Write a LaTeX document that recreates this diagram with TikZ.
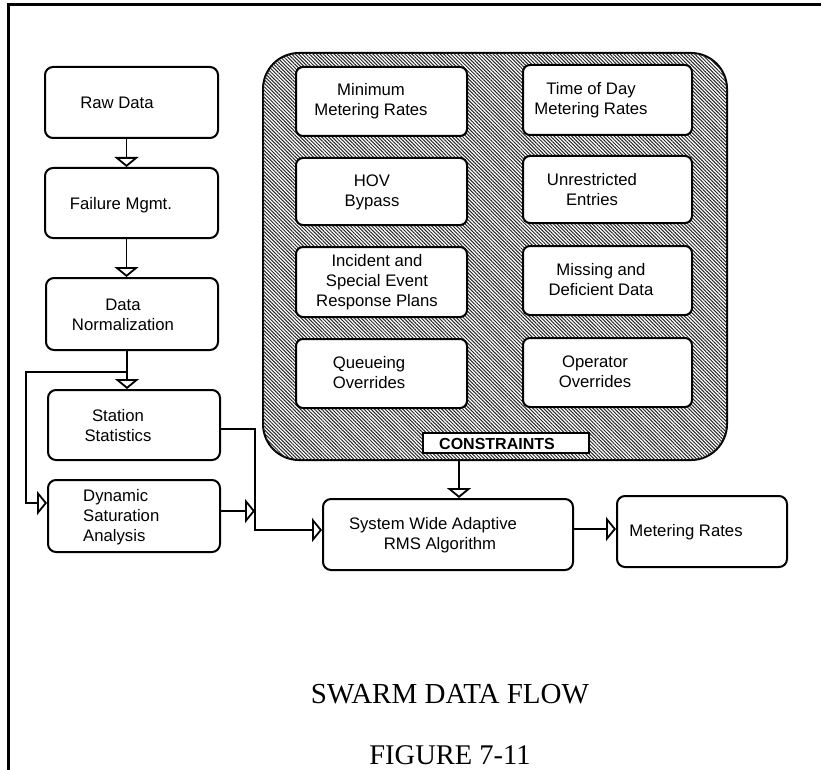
\documentclass[tikz,border=0pt]{standalone}
\usepackage{fontspec}
\newfontfamily\helv{Liberation Sans}
\newfontfamily\tms{Liberation Serif}
\usetikzlibrary{arrows.meta,patterns.meta}
\begin{document}
\begin{tikzpicture}[x=1pt,y=-1pt,
  box/.style={draw,line width=2pt,rounded corners=8pt,minimum width=#1,inner sep=0pt},
  cbox/.style={draw,line width=2pt,rounded corners=7pt,fill=white,inner sep=0pt},
  txt/.style={font=\helv\fontsize{16.7}{20}\selectfont,align=center,inner sep=0pt},
  arr/.style={line width=1.8pt,-{Triangle[open,width=24pt,length=10pt]}},
  ln/.style={line width=1.8pt}]
\useasboundingbox (0,0) rectangle (821,770);
% page frame
\draw[line width=3pt] (821,5) -- (8,5) -- (8,770);
% left column boxes
\node[box=173pt,minimum height=71pt] (raw)  at (131.5,102.5) {};
\node[box=173pt,minimum height=70pt] (fail) at (131.5,203) {};
\node[box=172pt,minimum height=72pt] (norm) at (132,314) {};
\node[box=172pt,minimum height=70pt] (stat) at (134,425) {};
\node[box=172pt,minimum height=72pt] (dyn)  at (134,516) {};
\node[box=250pt,minimum height=71pt] (sys)  at (448,534.5) {};
\node[box=170pt,minimum height=71pt] (met)  at (702,531.5) {};
\node[txt] (rawT)  at (117,103) {Raw Data};
\node[txt] (failT) at (121,205) {Failure Mgmt.};
\node[txt] (normT) at (123,315) {Data\\Normalization};
\node[txt] (statT) at (118,426) {Station\\Statistics};
\node[txt,align=left,anchor=west] (dynT) at (83,517) {Dynamic\\Saturation\\Analysis};
\node[txt] (sysT) at (433,535) {System Wide Adaptive\\\hspace*{14pt}RMS Algorithm};
\node[txt] (metT) at (686,532) {Metering Rates};
% constraints block
\node[draw,line width=2pt,rounded corners=36pt,minimum width=464pt,minimum height=407pt,inner sep=0pt,
  fill=white,postaction={pattern={Lines[angle=-45,distance=2.5pt,line width=1pt]},pattern color=black!85}] (cons) at (495,256.5) {};
\node[cbox,minimum width=171pt,minimum height=69pt] (c1) at (381.5,101.5) {};
\node[cbox,minimum width=169pt,minimum height=70pt] (c2) at (607.5,100) {};
\node[cbox,minimum width=171pt,minimum height=67pt] (c3) at (381.5,191.5) {};
\node[cbox,minimum width=169pt,minimum height=67pt] (c4) at (607.5,189.5) {};
\node[cbox,minimum width=171pt,minimum height=70pt] (c5) at (381.5,282) {};
\node[cbox,minimum width=169pt,minimum height=69pt] (c6) at (607.5,280.5) {};
\node[cbox,minimum width=171pt,minimum height=69pt] (c7) at (381.5,373.5) {};
\node[cbox,minimum width=169pt,minimum height=69pt] (c8) at (607.5,372.5) {};
\node[draw,line width=1.6pt,fill=white,minimum width=166pt,minimum height=20pt,inner sep=0pt] (lab) at (506,443) {};
\node[txt] (c1T) at (371,101) {Minimum\\Metering Rates};
\node[txt] (c2T) at (591,100) {Time of Day\\Metering Rates};
\node[txt] (c3T) at (372,192) {HOV\\Bypass};
\node[txt] (c4T) at (592,190) {Unrestricted\\Entries};
\node[txt] (c5T) at (377,282) {Incident and\\Special Event\\Response Plans};
\node[txt] (c6T) at (601,280) {Missing and\\Deficient Data};
\node[txt] (c7T) at (369,373) {Queueing\\Overrides};
\node[txt] (c8T) at (595,372) {Operator\\Overrides};
\node[txt,font=\helv\bfseries\fontsize{16}{18}\selectfont] (labT) at (497,443.5) {CONSTRAINTS};
% helper coordinates
\coordinate (br) at (127,372);
\coordinate (k1) at (26,372);
\coordinate (k2) at (26,503);
\coordinate (s1) at (255,429);
\coordinate (s2) at (255,530);
\coordinate (j)  at (255,511);
\coordinate (cx) at (459,0);
\coordinate (m)  at (0,529);
% connectors
\draw[arr] ([xshift=-5pt]raw.south) -- ([xshift=-5pt]fail.north);
\draw[arr] ([xshift=-5pt]fail.south) -- ([xshift=-5pt]fail.south |- norm.north);
\draw[arr] ([xshift=-5pt]norm.south) -- (br |- stat.north);
\draw[arr] (br) -- (k1) -- (k2) -- (k2 -| dyn.west);
\draw[arr] (stat.east |- s1) -- (s1) -- (s2) -- (s2 -| sys.west);
\draw[arr] (dyn.east |- j) -- (j);
\draw[arr] (cons.south -| cx) -- (sys.north -| cx);
\draw[arr] (sys.east |- m) -- (met.west |- m);
% captions
\node[font=\tms\fontsize{29}{32}\selectfont,anchor=base,inner sep=0pt] (title) at (450,703) {SWARM DATA FLOW};
\node[font=\tms\fontsize{28.5}{32}\selectfont,anchor=base,inner sep=0pt] (fig) at (450,764) {FIGURE 7-11};
\end{tikzpicture}
\end{document}
